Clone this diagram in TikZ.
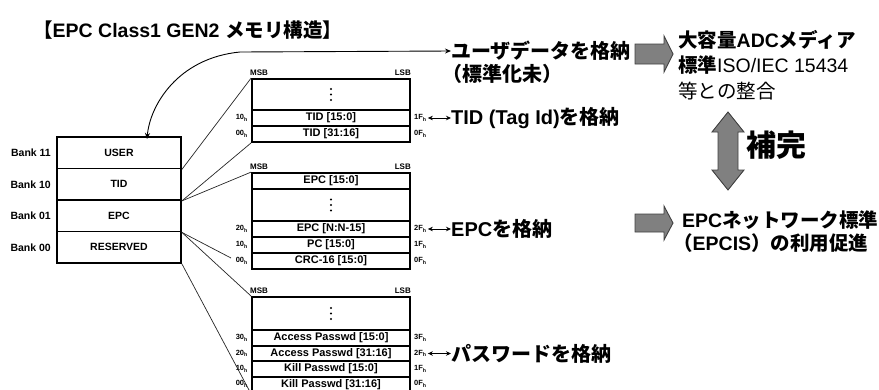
\documentclass[tikz,border=0pt]{standalone}
\usepackage{fontspec}
\setmainfont{Liberation Sans}
\newfontfamily\jp{Noto Sans CJK JP}
\usetikzlibrary{arrows.meta}
\newcommand\myaddr[1]{#1\textsubscript{h}}
\definecolor{fatfill}{HTML}{808080}
\definecolor{fatline}{HTML}{404040}
\begin{document}
\begin{tikzpicture}[x=1pt,y=-1pt,
  row/.style={draw, line width=1.8pt, minimum width=158pt, minimum height=16pt, inner sep=0pt,
              font=\fontsize{11}{11}\selectfont\bfseries},
  rowtxt/.style={inner sep=0pt, font=\fontsize{11}{11}\selectfont\bfseries},
  bank/.style={draw, line width=1.8pt, minimum width=124pt, minimum height=31.5pt, inner sep=0pt,
              font=\fontsize{10.5}{10.5}\selectfont\bfseries},
  banklab/.style={anchor=east, inner sep=0pt, font=\fontsize{10.5}{10.5}\selectfont\bfseries},
  addrl/.style={anchor=east, inner sep=0pt, font=\fontsize{7.5}{7.5}\selectfont\bfseries},
  addrr/.style={anchor=west, inner sep=0pt, font=\fontsize{7.5}{7.5}\selectfont\bfseries},
  msb/.style={inner sep=0pt, font=\fontsize{8}{8}\selectfont\bfseries},
  big/.style={anchor=west, inner sep=0pt, font=\fontsize{20}{20}\selectfont\bfseries},
  rbig/.style={anchor=west, inner sep=0pt, font=\fontsize{19.5}{19.5}\selectfont\bfseries},
  fat/.style={fill=fatfill, draw=fatline, line width=0.9pt, line join=miter},
  conn/.style={line width=0.7pt, draw=black!85},
  dbl/.style={{Stealth[length=5pt,width=4.5pt]}-{Stealth[length=5pt,width=4.5pt]}, line width=0.9pt},
  dotf/.style={fill=black}
]
\useasboundingbox (0,0) rectangle (879,389);

% title
\node[anchor=west, inner sep=0pt, font=\fontsize{19.5}{19.5}\selectfont\bfseries] (title) at (33,30)
  {{\jp 【}EPC Class1 GEN2 {\jp メモリ構造】}};

% banks
\node[bank] (buser) at (119,152.75) {USER};
\node[bank] (btid)  at (119,184.25) {TID};
\node[bank] (bepc)  at (119,215.75) {EPC};
\node[bank] (bres)  at (119,247.25) {RESERVED};
\node[banklab] (l11) at (51,152.75) {Bank 11};
\node[banklab] (l10) at (51,184.25) {Bank 10};
\node[banklab] (l01) at (51,215.75) {Bank 01};
\node[banklab] (l00) at (51,247.25) {Bank 00};

% TID map
\node[row, minimum height=31pt] (tdots) at (331,94.5) {};
\node[row] (t1) at (331,118) {TID [15:0]};
\node[row] (t2) at (331,134) {TID [31:16]};
\node[msb, anchor=west] (tmsb) at (250,72.5) {MSB};
\node[msb, anchor=east] (tlsb) at (411,72.5) {LSB};
\node[addrl] (t1l) at (248,118) {\myaddr{10}};
\node[addrl] (t2l) at (248,134) {\myaddr{00}};
\node[addrr] (t1r) at (414,118) {\myaddr{1F}};
\node[addrr] (t2r) at (414,134) {\myaddr{0F}};

% EPC map
\node[row] (e1) at (331,181) {EPC [15:0]};
\node[row, minimum height=32pt] (edots) at (331,205) {};
\node[row] (e2) at (331,229) {EPC [N:N-15]};
\node[row] (e3) at (331,245) {PC [15:0]};
\node[row] (e4) at (331,261) {CRC-16 [15:0]};
\node[msb, anchor=west] (emsb) at (250,166.5) {MSB};
\node[msb, anchor=east] (elsb) at (411,166.5) {LSB};
\node[addrl] (e2l) at (248,229) {\myaddr{20}};
\node[addrl] (e3l) at (248,245) {\myaddr{10}};
\node[addrl] (e4l) at (248,261) {\myaddr{00}};
\node[addrr] (e2r) at (414,229) {\myaddr{2F}};
\node[addrr] (e3r) at (414,245) {\myaddr{1F}};
\node[addrr] (e4r) at (414,261) {\myaddr{0F}};

% Password map
\node[row, minimum height=33pt] (pdots) at (331,313.5) {};
\node[row] (p1) at (331,338) {Access Passwd [15:0]};
\node[row] (p2) at (331,353.5) {Access Passwd [31:16]};
\node[row] (p3) at (331,369) {Kill Passwd [15:0]};
\node[row] (p4) at (331,385) {};
\node[rowtxt] (p4t) at (331,384.2) {Kill Passwd [31:16]};
\node[msb, anchor=west] (pmsb) at (250,290.5) {MSB};
\node[msb, anchor=east] (plsb) at (411,290.5) {LSB};
\node[addrl] (p1l) at (248,338) {\myaddr{30}};
\node[addrl] (p2l) at (248,353.5) {\myaddr{20}};
\node[addrl] (p3l) at (248,369) {\myaddr{10}};
\node[addrl] (p4l) at (248,384) {\myaddr{00}};
\node[addrr] (p1r) at (414,338) {\myaddr{3F}};
\node[addrr] (p2r) at (414,353.5) {\myaddr{2F}};
\node[addrr] (p3r) at (414,369) {\myaddr{1F}};
\node[addrr] (p4r) at (414,384) {\myaddr{0F}};

% vertical dots
\foreach \n in {tdots,edots,pdots}{
  \foreach \d in {-5.5,0,5.5} \fill[dotf] ([yshift=\d pt]\n.center) circle (1.2pt);
}

% expansion lines
\coordinate (eend) at (231,258);
\draw[conn] (buser.south east) -- (tdots.north west);
\draw[conn] (btid.south east) -- (t2.south west);
\draw[conn] (btid.south east) -- (e1.north west);
\draw[conn] (bepc.south east) -- (eend);
\draw[conn] (bepc.south east) -- (pdots.north west);
\draw[conn] (bres.south east) -- (p4.south west);

% labels on the right of the maps
\node[big] (usertxt) at (451,51) {{\jp ユーザデータを格納}};
\node[big] (usertxt2) at (442,74) {{\jp （標準化未）}};
\node[big] (tidtxt) at (451,118) {TID (Tag Id){\jp を格納}};
\node[big] (epctxt) at (451,229) {EPC{\jp を格納}};
\node[big] (pwtxt) at (451,353.5) {{\jp パスワードを格納}};

\coordinate (usertip) at (147,139);
\draw[line width=0.9pt, {Stealth[length=6pt,width=5pt]}-{Stealth[length=6pt,width=5pt]}]
  (usertip) .. controls (150,105) and (178,58) .. (240,52) -- (usertxt.west);

\draw[dbl] ([xshift=1pt]t1r.east) -- (tidtxt.west);
\draw[dbl] ([xshift=1pt]e2r.east) -- (epctxt.west);
\draw[dbl] ([xshift=1pt]p2r.east) -- (pwtxt.west);

% right column
\filldraw[fat] (635,44) -- (664,44) -- (664,36) -- (673,54) -- (664,72) -- (664,64) -- (635,64) -- cycle;
\filldraw[fat] (635,214) -- (664,214) -- (664,206) -- (673,223) -- (664,240) -- (664,232) -- (635,232) -- cycle;
\filldraw[fat] (728,112) -- (744,132) -- (738,132) -- (738,170) -- (744,170) -- (728,190)
  -- (712,170) -- (718,170) -- (718,132) -- (712,132) -- cycle;

\node[rbig] (adc1) at (678,40) {{\jp 大容量}ADC{\jp メディア}};
\node[rbig] (adc2) at (678,65.5) {{\jp 標準}\mdseries ISO/IEC 15434};
\node[rbig, font=\fontsize{19.5}{19.5}\selectfont\mdseries] (adc3) at (678,91) {{\jp 等との整合}};
\node[anchor=west, inner sep=0pt, font=\fontsize{30}{30}\selectfont\bfseries] (hokan) at (746,145) {{\jp 補完}};
\node[rbig] (epcis1) at (682,220) {EPC{\jp ネットワーク標準}};
\node[rbig] (epcis2) at (673,243.5) {{\jp （}EPCIS{\jp ）の利用促進}};
\end{tikzpicture}
\end{document}
